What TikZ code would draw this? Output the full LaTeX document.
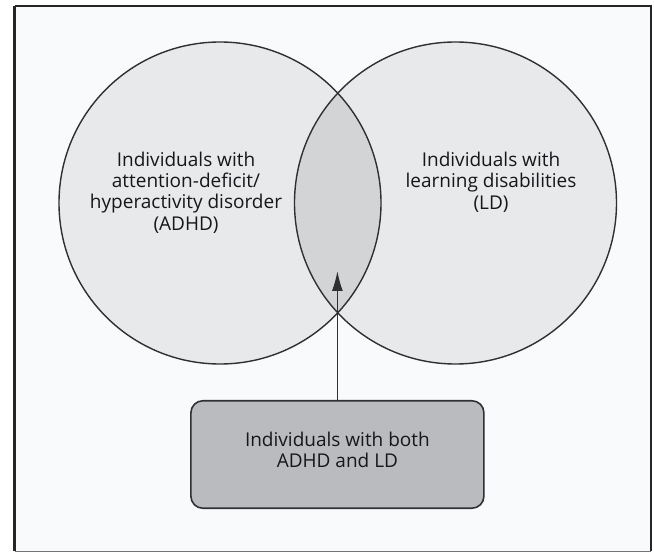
\documentclass[tikz,border=0pt]{standalone}
\usepackage{fontspec}
\setmainfont{Open Sans}
\usetikzlibrary{arrows.meta}
\definecolor{pagebg}{HTML}{F9FAFC}
\definecolor{setfill}{HTML}{E8E9EA}
\definecolor{lensfill}{HTML}{D3D4D6}
\definecolor{boxfill}{HTML}{B9BBBE}
\definecolor{inkline}{HTML}{2E3133}
\definecolor{inktext}{HTML}{15171A}
\tikzset{
  setlabel/.style={align=center, text=inktext, font=\fontsize{19}{21.3}\selectfont, inner sep=0pt},
  setline/.style={draw=inkline, line width=1.4pt},
  bothbox/.style={draw=inkline, line width=1.6pt, fill=boxfill, rounded corners=12pt},
  pointer/.style={draw=inkline, line width=1.4pt, -{Latex[length=20pt,width=11pt]}}
}
\begin{document}
\begin{tikzpicture}[x=1pt, y=-1pt]
  \useasboundingbox (0,0) rectangle (654,553);
  % outer frame
  \fill[pagebg] (14.5,6) rectangle (651,551);
  \draw[line width=2.4pt, draw=black!85] (14.5,6) -- (651,6) -- (651,551);
  \draw[line width=2.4pt, draw=black!85] (14.5,6) -- (14.5,551);
  \draw[line width=1pt, draw=black!55] (14.5,551) -- (651,551);

  % the two sets
  \fill[setfill] (220,203) circle[radius=161];
  \fill[setfill] (455.5,203) circle[radius=161];
  % overlap region
  \begin{scope}
    \clip (220,203) circle[radius=161];
    \fill[lensfill] (455.5,203) circle[radius=161];
  \end{scope}
  \draw[setline] (220,203) circle[radius=161];
  \draw[setline] (455.5,203) circle[radius=161];

  % labels of the sets
  \node[setlabel] (adhd) at (186,192.5)
    {Individuals with\\attention-deficit/\\hyperactivity disorder\\(ADHD)};
  \node[setlabel] (ld) at (491,182)
    {Individuals with\\learning disabilities\\(LD)};

  % overlap marker and box
  \coordinate (lens) at (337.4,271);
  \node[bothbox, minimum width=293pt, minimum height=107.5pt, inner sep=0pt] (both) at (337.4,454.5) {};
  \node[setlabel] (bothtext) at (337.4,450) {Individuals with both\\ADHD and LD};
  \draw[pointer] (both.north) -- (lens);
\end{tikzpicture}
\end{document}
